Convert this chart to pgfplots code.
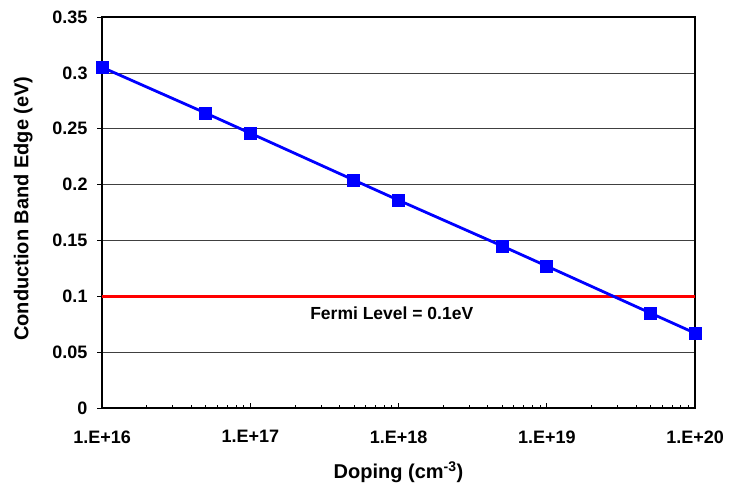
\documentclass[border=0pt]{standalone}
\usepackage{pgfplots}
\pgfplotsset{compat=1.18}
\usepackage{fontspec}
\setmainfont{Liberation Sans}
\definecolor{myblue}{RGB}{0,0,255}
\definecolor{myred}{RGB}{255,0,0}
\begin{document}
\begin{tikzpicture}
\begin{axis}[
  scale only axis,
  width=593pt, height=391pt,
  xmode=log,
  xmin=1e16, xmax=1e20,
  ymin=0, ymax=0.35,
  ytick={0,0.05,0.1,0.15,0.2,0.25,0.3,0.35},
  yticklabels={0,0.05,0.1,0.15,0.2,0.25,0.3,0.35},
  xtick={1e16,1e17,1e18,1e19,1e20},
  xticklabels={1.E+16,1.E+17,1.E+18,1.E+19,1.E+20},
  /pgf/number format/assume math mode=true,
  tick label style={font=\fontsize{18}{21}\selectfont\bfseries},
  xtick pos=bottom, ytick pos=left,
  xtick align=inside, ytick align=outside,
  major tick length=5pt, minor tick length=3pt,
  every tick/.style={black, line width=0.8pt},
  axis line style={line width=1.8pt},
  ymajorgrids,
  major grid style={black!75, line width=0.7pt},
  yticklabel style={xshift=-6pt},
  xticklabel style={yshift=-19pt},
  xlabel={Doping (cm\textsuperscript{-3})},
  ylabel={Conduction Band Edge (eV)},
  every axis x label/.style={at={(axis description cs:0.5,-0.164)}, anchor=center, font=\fontsize{20}{23}\selectfont\bfseries},
  every axis y label/.style={at={(axis description cs:-0.133,0.51)}, anchor=center, rotate=90, font=\fontsize{20}{23}\selectfont\bfseries},
  clip=false,
]
\addplot[myred, line width=2.6pt] coordinates {(1e16,0.1) (1e20,0.1)};
\addplot[myblue, line width=2.8pt, mark=square*, mark size=6pt, mark options={fill=myblue, draw=myblue, line width=0pt}]
coordinates {
(1e16,0.305) (5e16,0.264) (1e17,0.246) (5e17,0.204) (1e18,0.186)
(5e18,0.145) (1e19,0.127) (5e19,0.085) (1e20,0.067)
};
\node[font=\fontsize{17.5}{20}\selectfont\bfseries] at (axis cs:9e17,0.085) {Fermi Level = 0.1eV};
\end{axis}
\pgfresetboundingbox
\path (current axis.south west)++(-102pt,-82pt) coordinate (bl);
\path (current axis.north east)++(36pt,17pt) coordinate (tr);
\path[use as bounding box] (bl) rectangle (tr);
\end{tikzpicture}
\end{document}
